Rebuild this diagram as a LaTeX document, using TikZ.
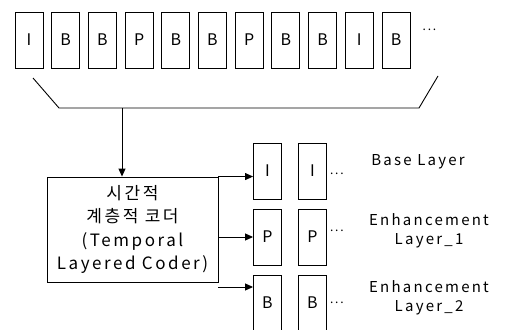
\documentclass[tikz,border=0pt]{standalone}
\usepackage{fontspec}
\setmainfont[LetterSpace=15]{Noto Sans CJK KR}
\usetikzlibrary{arrows.meta,positioning,calc}

\begin{document}
\begin{tikzpicture}[x=1pt, y=-1pt,
    line width=0.9pt,
    frame/.style={draw, minimum width=28pt, minimum height=56pt, inner sep=0pt, font=\fontsize{16}{18}\selectfont},
    coderbox/.style={draw, align=center, minimum width=171pt, minimum height=105pt, inner sep=0pt, font=\fontsize{17}{23.5}\selectfont},
    layerlabel/.style={align=center, font=\fontsize{15}{19}\selectfont},
    dotstext/.style={inner sep=0pt, font=\fontsize{12}{12}\selectfont},
    arrow/.style={-{Triangle[length=8pt, width=7pt]}}
  ]
  \useasboundingbox (0,0) rectangle (505,329);
  \node[frame] (f1) at (29,40) {I};
  \node[frame, right=7.8pt of f1] (f2) {B};
  \node[frame, right=7.8pt of f2] (f3) {B};
  \node[frame, right=7.8pt of f3] (f4) {P};
  \node[frame, right=7.8pt of f4] (f5) {B};
  \node[frame, right=7.8pt of f5] (f6) {B};
  \node[frame, right=7.8pt of f6] (f7) {P};
  \node[frame, right=7.8pt of f7] (f8) {B};
  \node[frame, right=7.8pt of f8] (f9) {B};
  \node[frame, right=7.8pt of f9] (f10) {I};
  \node[frame, right=7.8pt of f10] (f11) {B};
  \node[dotstext] (fdots) at ($(f11.east)+(19,-10)$) {...};

  \draw (33,78) -- (59,108) -- (419,108) -- (438,76);
  \coordinate (brk) at (122,108);

  \node[coderbox] (coder) at (132.5,229.5) {시간적\\계층적 코더\\(Temporal\\Layered Coder)};
  \draw[arrow] (brk) -- (brk |- coder.north);

  \node[frame] (i1) at (267.5,171) {I};
  \node[frame, right=16pt of i1] (i2) {I};
  \node[frame, below=9.1pt of i1] (p1) {P};
  \node[frame, right=16pt of p1] (p2) {P};
  \node[frame, below=9.1pt of p1] (b1) {B};
  \node[frame, right=16pt of b1] (b2) {B};
  \node[dotstext] (idots) at ($(i2.east)+(10,3)$) {...};
  \node[dotstext] (pdots) at ($(p2.east)+(10,-6)$) {...};
  \node[dotstext] (bdots) at ($(b2.east)+(10,0)$) {...};

  \draw[arrow] (coder.north east) -- (coder.north east -| i1.west);
  \draw[arrow] (coder.east |- p1.west) -- (p1.west);
  \draw[arrow] ($(coder.east |- b1.west)+(0,-16)$) -- ($(b1.west)+(0,-16)$);

  \node[layerlabel] (base) at (418,162) {Base Layer};
  \node[layerlabel] (enh1) at (429,231) {Enhancement\\Layer\_1};
  \node[layerlabel] (enh2) at (429,298) {Enhancement\\Layer\_2};
\end{tikzpicture}
\end{document}
